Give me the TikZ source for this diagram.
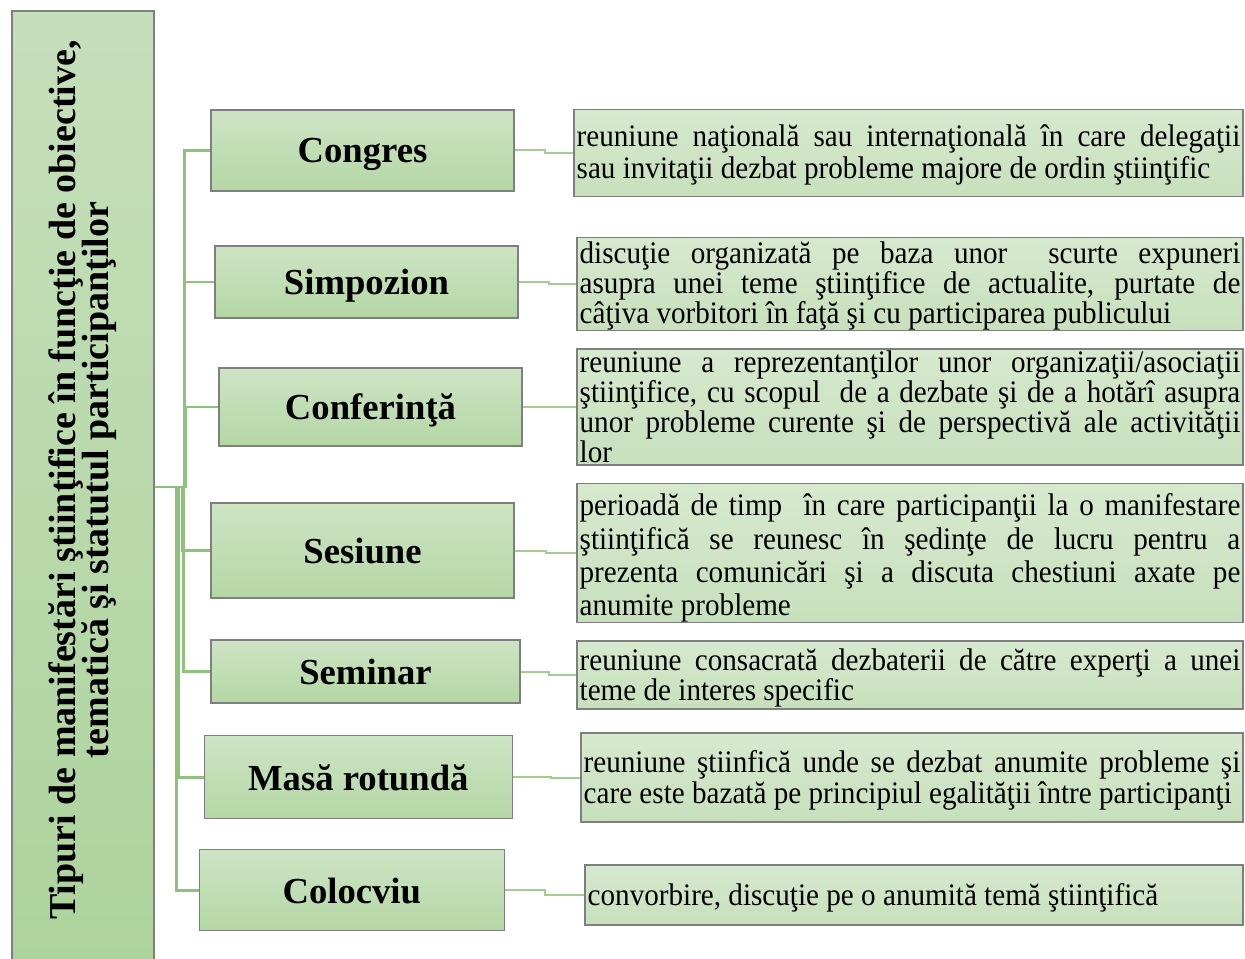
\documentclass[tikz,border=0pt]{standalone}
\usepackage{fontspec}
\setmainfont{Liberation Serif}
\newfontfamily\deffont[FakeStretch=0.93]{Liberation Serif}
\definecolor{bordercol}{HTML}{7F7F7F}
\definecolor{conncol}{HTML}{8EC27C}
\definecolor{defconncol}{HTML}{A3CD91}
\definecolor{labtop}{HTML}{CDE4C4}
\definecolor{labbot}{HTML}{B4D7A6}
\definecolor{deftop}{HTML}{D6E9CE}
\definecolor{defbot}{HTML}{C7E0BC}
\definecolor{roottop}{HTML}{C6DFBB}
\definecolor{rootbot}{HTML}{ADD39D}
\newcommand\jl[1]{\makebox[\hsize][s]{#1}}
% width, baselineskip, top padding, text
\newcommand\deftext[4]{\parbox{#1}{\vspace*{#3}\baselineskip=#2\relax #4}}
\begin{document}
\lineskiplimit=-100pt\relax
\begin{tikzpicture}[x=0.75pt,y=-0.75pt,
  rootbox/.style={draw=bordercol,line width=0.8pt,top color=roottop,bottom color=rootbot,inner sep=0pt},
  roottxt/.style={rotate=90,align=center,inner sep=0pt,
    font=\bfseries\fontsize{28.5}{24.75}\selectfont},
  lab/.style={draw=bordercol,line width=0.8pt,top color=labtop,bottom color=labbot,inner sep=0pt,
    text depth=0pt,font=\bfseries\fontsize{27.5}{30}\selectfont},
  defbox/.style={draw=bordercol,line width=0.8pt,top color=deftop,bottom color=defbot,
    inner xsep=2pt,inner ysep=0pt,
    font=\deffont\fontsize{23.5}{22.5}\selectfont},
  conn/.style={draw=conncol,line width=2pt},
  defconn/.style={draw=defconncol,line width=1.5pt}
]
\useasboundingbox (0,0) rectangle (1245,959);

% root
\node[rootbox,minimum width=106.5pt,minimum height=714pt] (root) at (83,487) {};
\node[roottxt] (rt) at (83,480) {Tipuri de manifestări ştiinţifice în funcţie de obiective,\\tematică şi statutul participanţilor};

% labels
\node[lab,minimum width=227.25pt,minimum height=60.75pt] (l1) at (362.5,150.5) {Congres};
\node[lab,minimum width=227.25pt,minimum height=54pt] (l2) at (366.5,282) {Simpozion};
\node[lab,minimum width=227.25pt,minimum height=58.5pt] (l3) at (370.5,407) {Conferinţă};
\node[lab,minimum width=227.25pt,minimum height=71.25pt] (l4) at (362.5,550.5) {Sesiune};
\node[lab,minimum width=231.75pt,minimum height=47.25pt] (l5) at (365.5,671.5) {Seminar};
\node[lab,minimum width=231pt,minimum height=62.25pt] (l6) at (358.3,777.3) {Masă rotundă};
\node[lab,minimum width=228.75pt,minimum height=60.75pt] (l7) at (351.8,890.3) {Colocviu};

% definitions
\node[defbox,minimum width=501.75pt,minimum height=65.25pt] (d1) at (908.5,153)
 {\deftext{497.75pt}{24pt}{3pt}{\jl{reuniune naţională sau internaţională în care delegaţii}\\sau invitaţii dezbat probleme majore de ordin ştiinţific}};
\node[defbox,minimum width=499.5pt,minimum height=66pt] (d2) at (910,284)
 {\deftext{495.5pt}{22.5pt}{3.5pt}{\jl{discuţie organizată pe baza unor\ \ scurte expuneri}\\\jl{asupra unei teme ştiinţifice de actualite, purtate de}\\câţiva vorbitori în faţă şi cu participarea publicului}};
\node[defbox,minimum width=499.5pt,minimum height=87pt] (d3) at (910,407)
 {\deftext{495.5pt}{22.5pt}{0pt}{\jl{reuniune a reprezentanţilor unor organizaţii/asociaţii}\\\jl{ştiinţifice, cu scopul\ \ de a dezbate şi de a hotărî asupra}\\\jl{unor probleme curente şi de perspectivă ale activităţii}\\lor}};
\node[defbox,minimum width=499.5pt,minimum height=97.5pt] (d4) at (910,553)
 {\deftext{495.5pt}{25pt}{7.5pt}{\jl{perioadă de timp\ \ în care participanţii la o manifestare}\\\jl{ştiinţifică se reunesc în şedinţe de lucru pentru a}\\\jl{prezenta comunicări şi a discuta chestiuni axate pe}\\anumite probleme}};
\node[defbox,minimum width=499.5pt,minimum height=51pt] (d5) at (910,675)
 {\deftext{495.5pt}{22.5pt}{4.5pt}{\jl{reuniune consacrată dezbaterii de către experţi a unei}\\teme de interes specific}};
\node[defbox,minimum width=496.5pt,minimum height=66.75pt] (d6) at (912,777.5)
 {\deftext{492.5pt}{23.25pt}{4.5pt}{\jl{reuniune ştiinfică unde se dezbat anumite probleme şi}\\care este bazată pe principiul egalităţii între participanţi}};
\node[defbox,minimum width=493.5pt,minimum height=45pt] (d7) at (914,895)
 {\deftext{489.5pt}{22.5pt}{4.5pt}{convorbire, discuţie pe o anumită temă ştiinţifică}};

% bus connectors
\draw[conn] (root.east) -- ++(30,0) |- (l1.west);
\draw[conn] (root.east) -- ++(30,0) |- (l2.west);
\draw[conn] (root.east) -- ++(31,0) |- (l3.west);
\draw[conn] (root.east) -- ++(28,0) |- (l4.west);
\draw[conn] (root.east) -- ++(29,0) |- (l5.west);
\draw[conn] (root.east) -- ++(24,0) |- (l6.west);
\draw[conn] (root.east) -- ++(22,0) |- (l7.west);

% label to definition
\draw[defconn] (l1.east) -- ++(30,0) |- (d1.west);
\draw[defconn] (l2.east) -- ++(30,0) |- (d2.west);
\draw[defconn] (l3.east) -- ++(28,0) |- (d3.west);
\draw[defconn] (l4.east) -- ++(31,0) |- (d4.west);
\draw[defconn] (l5.east) -- ++(28,0) |- (d5.west);
\draw[defconn] (l6.east) -- ++(38,0) |- (d6.west);
\draw[defconn] (l7.east) -- ++(40,0) |- (d7.west);
\end{tikzpicture}
\end{document}
